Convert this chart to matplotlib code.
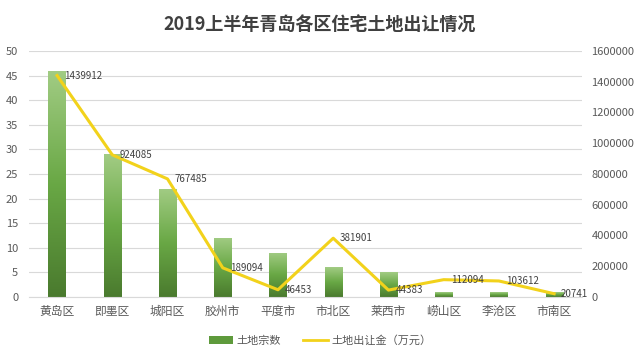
import matplotlib.pyplot as plt
import numpy as np
from matplotlib.colors import LinearSegmentedColormap
from matplotlib.patches import Patch
from matplotlib.lines import Line2D

plt.rcParams['font.family'] = ['Noto Sans CJK SC', 'DejaVu Sans']

# 数据
districts = ["黄岛区", "即墨区", "城阳区", "胶州市", "平度市", "市北区", "莱西市", "崂山区", "李沧区", "市南区"]
land_count = [46, 29, 22, 12, 9, 6, 5, 1, 1, 1]
land_fee = [1439912, 924085, 767485, 189094, 46453, 381901, 44383, 112094, 103612, 20741]

title = "2019上半年青岛各区住宅土地出让情况"
count_label = "土地宗数"
fee_label = "土地出让金（万元）"

tick_color = "#595959"
grid_color = "#d9d9d9"
line_color = "#f2d21b"

fig = plt.figure(figsize=(6.4, 3.56), dpi=100)
ax = fig.add_axes([0.046, 0.166, 0.863, 0.691])
ax2 = ax.twinx()

x = np.arange(len(districts))

# 柱形图 (渐变填充)
bars = ax.bar(x, land_count, width=0.31, color="none", zorder=2)
cmap = LinearSegmentedColormap.from_list("g", ["#4a7a2e", "#69a845", "#a2cc84"])
grad = np.linspace(0, 1, 256).reshape(-1, 1)
for b in bars:
    x0, y0 = b.get_x(), b.get_y()
    w, h = b.get_width(), b.get_height()
    im = ax.imshow(grad, cmap=cmap, origin="lower", aspect="auto",
                   extent=[x0, x0 + w, y0, y0 + h], zorder=2)
    im.set_clip_path(b)

ax.set_xlim(-0.5, len(districts) - 0.5)
ax.set_ylim(0, 50)
ax.set_yticks(range(0, 51, 5))
ax.grid(axis="y", color=grid_color, linewidth=0.8, zorder=0)
ax.set_axisbelow(True)

# 折线图
ax2.plot(x, land_fee, color=line_color, linewidth=2.2, zorder=3)
ax2.set_ylim(0, 1600000)
ax2.set_yticks(range(0, 1600001, 200000))
ax2.set_yticklabels([str(v) for v in range(0, 1600001, 200000)])
for xi, v in zip(x, land_fee):
    ax2.annotate(str(v), (xi, v), xytext=(5, 0), textcoords="offset points",
                 ha="left", va="center", fontsize=7, color="#404040")

ax.set_xticks(x)
ax.set_xticklabels(districts)
for a in (ax, ax2):
    for s in a.spines.values():
        s.set_visible(False)
    a.tick_params(length=0, colors=tick_color, labelsize=8)
ax.tick_params(axis="x", labelsize=8.5, pad=6)
ax.tick_params(axis="y", pad=8)
ax2.tick_params(axis="y", pad=7)
ax.spines["bottom"].set_visible(True)
ax.spines["bottom"].set_color(grid_color)

fig.suptitle(title, x=0.5, y=0.955, fontsize=13, fontweight="bold", color="#404040")

handles = [Patch(facecolor="#5e9a3c", edgecolor="none"),
           Line2D([0], [0], color=line_color, linewidth=2)]
fig.legend(handles, [count_label, fee_label], loc="lower center",
           bbox_to_anchor=(0.5, 0.0), ncol=2, frameon=False, fontsize=8,
           labelcolor=tick_color, handlelength=2.2, handletextpad=0.3,
           columnspacing=2.0)

fig.savefig("out.png", dpi=100)
